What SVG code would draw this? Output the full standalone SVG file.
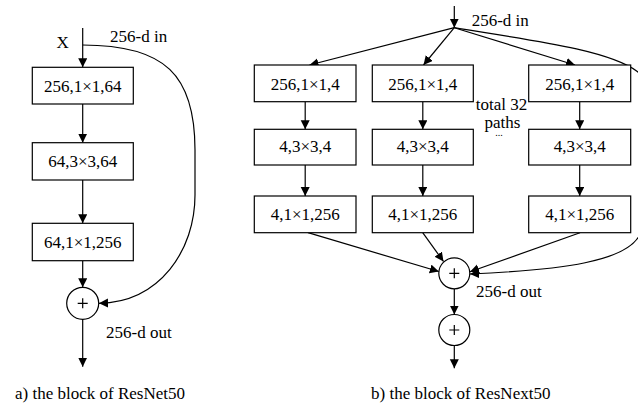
<svg xmlns="http://www.w3.org/2000/svg" width="638" height="405" viewBox="0 0 638 405">
<style>
text{font-family:"Liberation Serif","Times New Roman",serif;font-size:17px;fill:#000}
.c{text-anchor:middle}
.box{fill:#fff;stroke:#000;stroke-width:1.2}
.ln{fill:none;stroke:#000;stroke-width:1.2}
.ar{fill:none;stroke:#000;stroke-width:1.2;marker-end:url(#ah)}
</style>
<defs>
<marker id="ah" markerUnits="userSpaceOnUse" markerWidth="10" markerHeight="10" viewBox="0 0 10 10" refX="9" refY="4.5" orient="auto">
<path d="M0,0 L9,4.5 L0,9 z" fill="#000"/>
</marker>
</defs>
<rect width="638" height="405" fill="#fff"/>
<g id="connectors">
<line class="ar" x1="82.7" y1="28" x2="82.7" y2="67.3"/>
<line class="ar" x1="82.7" y1="104" x2="82.7" y2="142.7"/>
<line class="ar" x1="82.7" y1="180" x2="82.7" y2="223.3"/>
<line class="ar" x1="82.7" y1="260.7" x2="82.7" y2="287.3"/>
<line class="ar" x1="82.7" y1="319.3" x2="82.7" y2="366.7"/>
<path class="ar" d="M82.7,45 C165,45 195,75 195,150 L195,195 C195,250 160,302 99,303.3"/>
<line class="ar" x1="454.3" y1="6" x2="454.3" y2="27.7"/>
<line class="ar" x1="454.3" y1="27.7" x2="309.5" y2="65"/>
<line class="ar" x1="454.3" y1="27.7" x2="423.5" y2="65"/>
<line class="ar" x1="454.3" y1="27.7" x2="575" y2="65"/>
<path class="ar" d="M454.3,27.7 C530,40 610,50 638,72 C648,90 645,200 641,232 C630,262 560,270 470,274"/>
<line class="ar" x1="305.2" y1="101.7" x2="305.2" y2="129.3"/>
<line class="ar" x1="422.8" y1="101.7" x2="422.8" y2="129.3"/>
<line class="ar" x1="579.7" y1="101.7" x2="579.7" y2="129.3"/>
<line class="ar" x1="305.2" y1="165" x2="305.2" y2="196"/>
<line class="ar" x1="422.8" y1="165" x2="422.8" y2="196"/>
<line class="ar" x1="579.7" y1="165" x2="579.7" y2="196"/>
<line class="ar" x1="308" y1="232.7" x2="438.8" y2="271.5"/>
<line class="ar" x1="422.7" y1="232.7" x2="443.5" y2="261.5"/>
<line class="ar" x1="580" y1="232.7" x2="470" y2="271.8"/>
<line class="ar" x1="454.3" y1="288.8" x2="454.3" y2="314.5"/>
<line class="ar" x1="454.3" y1="345.5" x2="454.3" y2="368.3"/>
</g>
<g id="a-b1"><rect class="box" x="32.3" y="67.3" width="101" height="36.7"/><text class="c" x="82.7" y="91.7">256,1×1,64</text></g>
<g id="a-b2"><rect class="box" x="32.3" y="142.7" width="101" height="37.3"/><text class="c" x="82.7" y="166.7">64,3×3,64</text></g>
<g id="a-b3"><rect class="box" x="32.3" y="223.3" width="101" height="37.4"/><text class="c" x="82.7" y="248.3">64,1×1,256</text></g>
<g id="a-sum"><circle class="box" cx="82.7" cy="303.3" r="16"/><path class="ln" d="M77.7,303.3 H87.7 M82.7,298.3 V308.3"/></g>
<g id="b-a1"><rect class="box" x="254.3" y="65" width="101.7" height="36.7"/><text class="c" x="305.2" y="90">256,1×1,4</text></g>
<g id="b-b1"><rect class="box" x="372.3" y="65" width="101" height="36.7"/><text class="c" x="422.8" y="90">256,1×1,4</text></g>
<g id="b-c1"><rect class="box" x="528.7" y="65" width="102" height="36.7"/><text class="c" x="579.7" y="90">256,1×1,4</text></g>
<g id="b-a2"><rect class="box" x="254.3" y="129.3" width="101.7" height="35.7"/><text class="c" x="305.2" y="151.7">4,3×3,4</text></g>
<g id="b-b2"><rect class="box" x="372.3" y="129.3" width="101" height="35.7"/><text class="c" x="422.8" y="151.7">4,3×3,4</text></g>
<g id="b-c2"><rect class="box" x="528.7" y="129.3" width="102" height="35.7"/><text class="c" x="579.7" y="151.7">4,3×3,4</text></g>
<g id="b-a3"><rect class="box" x="254.3" y="196" width="101.7" height="36.7"/><text class="c" x="305.2" y="220">4,1×1,256</text></g>
<g id="b-b3"><rect class="box" x="372.3" y="196" width="101" height="36.7"/><text class="c" x="422.8" y="220">4,1×1,256</text></g>
<g id="b-c3"><rect class="box" x="528.7" y="196" width="102" height="36.7"/><text class="c" x="579.7" y="220">4,1×1,256</text></g>
<g id="b-sum1"><circle class="box" cx="454.3" cy="273.3" r="15.5"/><path class="ln" d="M449.3,273.3 H459.3 M454.3,268.3 V278.3"/></g>
<g id="b-sum2"><circle class="box" cx="454.3" cy="330" r="15.5"/><path class="ln" d="M449.3,330 H459.3 M454.3,325 V335"/></g>
<g id="labels">
<text x="56.5" y="48">X</text>
<text x="110" y="41.5">256-d in</text>
<text x="106" y="338.3">256-d out</text>
<text x="471.7" y="26">256-d in</text>
<text x="476" y="297.3">256-d out</text>
<text class="c" x="501.5" y="110">total 32</text>
<text class="c" x="502.5" y="128">paths</text>
<text class="c" x="499" y="136" style="font-size:10px">...</text>
<text x="15" y="399">a) the block of ResNet50</text>
<text x="371" y="399">b) the block of ResNext50</text>
</g>
</svg>
